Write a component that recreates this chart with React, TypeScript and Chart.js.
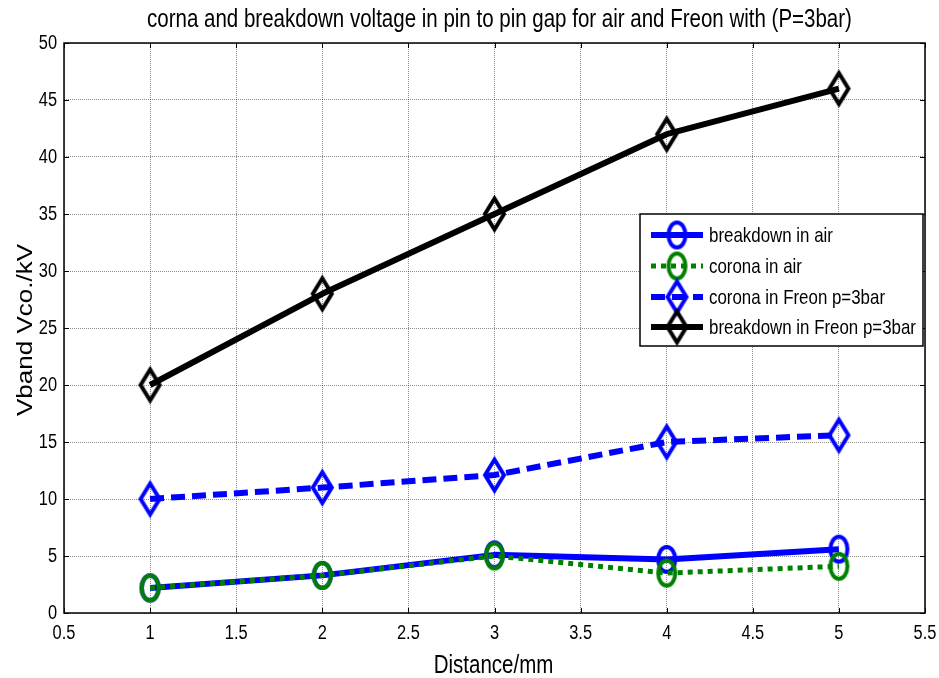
import React, { useEffect, useRef } from "react";
import { Chart, registerables } from "chart.js";

Chart.register(...registerables);

const distances = [1, 2, 3, 4, 5];
const breakdownAir = [2.2, 3.3, 5.1, 4.7, 5.6];
const coronaAir = [2.2, 3.3, 5.0, 3.5, 4.1];
const coronaFreon = [10, 11, 12.1, 15, 15.6];
const breakdownFreon = [20, 28, 35, 42, 46];
const seriesLabels = [
  "breakdown in air",
  "corona in air",
  "corona in Freon p=3bar",
  "breakdown in Freon p=3bar",
];
const titleText = "corna and breakdown voltage in pin to pin gap for air and Freon with (P=3bar)";
const xTitle = "Distance/mm";
const yTitle = "Vband Vco./kV";

const FONT = "'Liberation Sans', Arial, sans-serif";
const SX = 0.82; // horizontal squeeze of the original figure

function makeMarker(shape: "ellipse" | "diamond", color: string, w: number, h: number, lw: number) {
  const c = document.createElement("canvas");
  c.width = Math.ceil(w + lw * 2);
  c.height = Math.ceil(h + lw * 2);
  const ctx = c.getContext("2d")!;
  ctx.strokeStyle = color;
  ctx.lineWidth = lw;
  const cx = c.width / 2;
  const cy = c.height / 2;
  ctx.beginPath();
  if (shape === "ellipse") {
    ctx.ellipse(cx, cy, w / 2, h / 2, 0, 0, Math.PI * 2);
  } else {
    ctx.moveTo(cx, cy - h / 2);
    ctx.lineTo(cx + w / 2, cy);
    ctx.lineTo(cx, cy + h / 2);
    ctx.lineTo(cx - w / 2, cy);
    ctx.closePath();
  }
  ctx.stroke();
  return c;
}

function squeezedText(
  ctx: CanvasRenderingContext2D,
  text: string,
  x: number,
  y: number,
  size: number,
  align: CanvasTextAlign,
  baseline: CanvasTextBaseline
) {
  ctx.save();
  ctx.translate(x, y);
  ctx.scale(SX, 1);
  ctx.font = `${size}px ${FONT}`;
  ctx.textAlign = align;
  ctx.textBaseline = baseline;
  ctx.fillStyle = "#000";
  ctx.fillText(text, 0, 0);
  ctx.restore();
}

function fmt(v: number) {
  return String(Number(v.toFixed(2)));
}

export default function App() {
  const ref = useRef<HTMLCanvasElement | null>(null);

  useEffect(() => {
    if (!ref.current) return;
    const blueEllipse = makeMarker("ellipse", "#0000ff", 17, 25, 4);
    const greenEllipse = makeMarker("ellipse", "#008000", 17, 25, 4);
    const blueDiamond = makeMarker("diamond", "#0000ff", 19, 31, 4);
    const blackDiamond = makeMarker("diamond", "#000000", 19, 31, 4);

    const styles = [
      { color: "#0000ff", dash: [] as number[], width: 6, marker: blueEllipse },
      { color: "#008000", dash: [5, 5], width: 5, marker: greenEllipse },
      { color: "#0000ff", dash: [14, 7], width: 6, marker: blueDiamond },
      { color: "#000000", dash: [] as number[], width: 6, marker: blackDiamond },
    ];
    const series = [breakdownAir, coronaAir, coronaFreon, breakdownFreon];
    const orders = [3, 2, 1, 0];

    const framePlugin = {
      id: "matlabFrame",
      afterDraw(chart: any) {
        const ctx = chart.ctx as CanvasRenderingContext2D;
        const a = chart.chartArea;
        const xs = chart.scales.x;
        const ys = chart.scales.y;
        ctx.save();
        // frame
        ctx.strokeStyle = "#000";
        ctx.lineWidth = 1.5;
        ctx.setLineDash([]);
        ctx.strokeRect(a.left, a.top, a.right - a.left, a.bottom - a.top);
        // inward ticks
        ctx.lineWidth = 1;
        ctx.beginPath();
        xs.ticks.forEach((t: any) => {
          const px = Math.round(xs.getPixelForValue(t.value)) + 0.5;
          ctx.moveTo(px, a.bottom);
          ctx.lineTo(px, a.bottom - 5);
          ctx.moveTo(px, a.top);
          ctx.lineTo(px, a.top + 5);
        });
        ys.ticks.forEach((t: any) => {
          const py = Math.round(ys.getPixelForValue(t.value)) + 0.5;
          ctx.moveTo(a.left, py);
          ctx.lineTo(a.left + 5, py);
          ctx.moveTo(a.right, py);
          ctx.lineTo(a.right - 5, py);
        });
        ctx.stroke();

        // tick labels
        xs.ticks.forEach((t: any) => {
          squeezedText(ctx, fmt(t.value), xs.getPixelForValue(t.value), a.bottom + 26, 20, "center", "alphabetic");
        });
        ys.ticks.forEach((t: any) => {
          squeezedText(ctx, fmt(t.value), a.left - 7, ys.getPixelForValue(t.value), 20, "right", "middle");
        });

        // title
        squeezedText(ctx, titleText, (a.left + a.right) / 2 + 5, 27, 25, "center", "alphabetic");
        // x title
        squeezedText(ctx, xTitle, (a.left + a.right) / 2 - 1, 673, 25, "center", "alphabetic");
        // y title (rotated; squeeze acts on glyph height)
        ctx.save();
        ctx.translate(32, (a.top + a.bottom) / 2 + 2);
        ctx.rotate(-Math.PI / 2);
        ctx.scale(1, SX + 0.06);
        ctx.font = `26px ${FONT}`;
        ctx.textAlign = "center";
        ctx.textBaseline = "alphabetic";
        ctx.fillStyle = "#000";
        ctx.fillText(yTitle, 0, 0);
        ctx.restore();

        // legend
        const lx = 640, ly = 214, lw = 283, lh = 132;
        ctx.fillStyle = "#fff";
        ctx.fillRect(lx, ly, lw, lh);
        ctx.strokeStyle = "#000";
        ctx.lineWidth = 1.5;
        ctx.strokeRect(lx, ly, lw, lh);
        const rows = [235, 266, 297, 327];
        seriesLabels.forEach((lab, i) => {
          const s = styles[i];
          const y = rows[i];
          ctx.strokeStyle = s.color;
          ctx.lineWidth = s.width;
          ctx.setLineDash(s.dash);
          ctx.beginPath();
          ctx.moveTo(651, y);
          ctx.lineTo(703, y);
          ctx.stroke();
          ctx.setLineDash([]);
          ctx.drawImage(s.marker, 677 - s.marker.width / 2, y - s.marker.height / 2);
          squeezedText(ctx, lab, 709, y + 7, 20.6, "left", "alphabetic");
        });
        ctx.restore();
      },
    };

    const chart = new Chart(ref.current, {
      type: "line",
      data: {
        datasets: series.map((vals, i) => ({
          label: seriesLabels[i],
          data: distances.map((d, j) => ({ x: d, y: vals[j] })),
          borderColor: styles[i].color,
          backgroundColor: "transparent",
          borderWidth: styles[i].width,
          borderDash: styles[i].dash,
          borderCapStyle: "butt",
          borderJoinStyle: "round",
          pointStyle: styles[i].marker as any,
          pointRadius: 10,
          order: orders[i],
          fill: false,
          tension: 0,
          clip: false,
        })),
      },
      plugins: [framePlugin],
      options: {
        responsive: false,
        animation: false,
        events: [],
        layout: { autoPadding: false, padding: { top: 43, right: 14, left: 0, bottom: 0 } },
        plugins: {
          legend: { display: false },
          title: { display: false },
          tooltip: { enabled: false },
        },
        scales: {
          x: {
            type: "linear",
            min: 0.5,
            max: 5.5,
            afterFit: (s: any) => {
              s.height = 65;
              s.paddingLeft = 0;
              s.paddingRight = 0;
            },
            ticks: { stepSize: 0.5, display: false, autoSkip: false },
            grid: { color: "rgba(0,0,0,0.45)", lineWidth: 1, drawTicks: false },
            border: { display: false, dash: [1, 1] },
          },
          y: {
            type: "linear",
            min: 0,
            max: 50,
            afterFit: (s: any) => {
              s.width = 64;
              s.paddingTop = 0;
              s.paddingBottom = 0;
            },
            ticks: { stepSize: 5, display: false, autoSkip: false },
            grid: { color: "rgba(0,0,0,0.45)", lineWidth: 1, drawTicks: false },
            border: { display: false, dash: [1, 1] },
          },
        },
      },
    } as any);

    return () => chart.destroy();
  }, []);

  return (
    <div style={{ position: "absolute", left: 0, top: 0, width: 939, height: 678, background: "#fff" }}>
      <canvas ref={ref} width={939} height={678} style={{ display: "block" }} />
    </div>
  );
}
